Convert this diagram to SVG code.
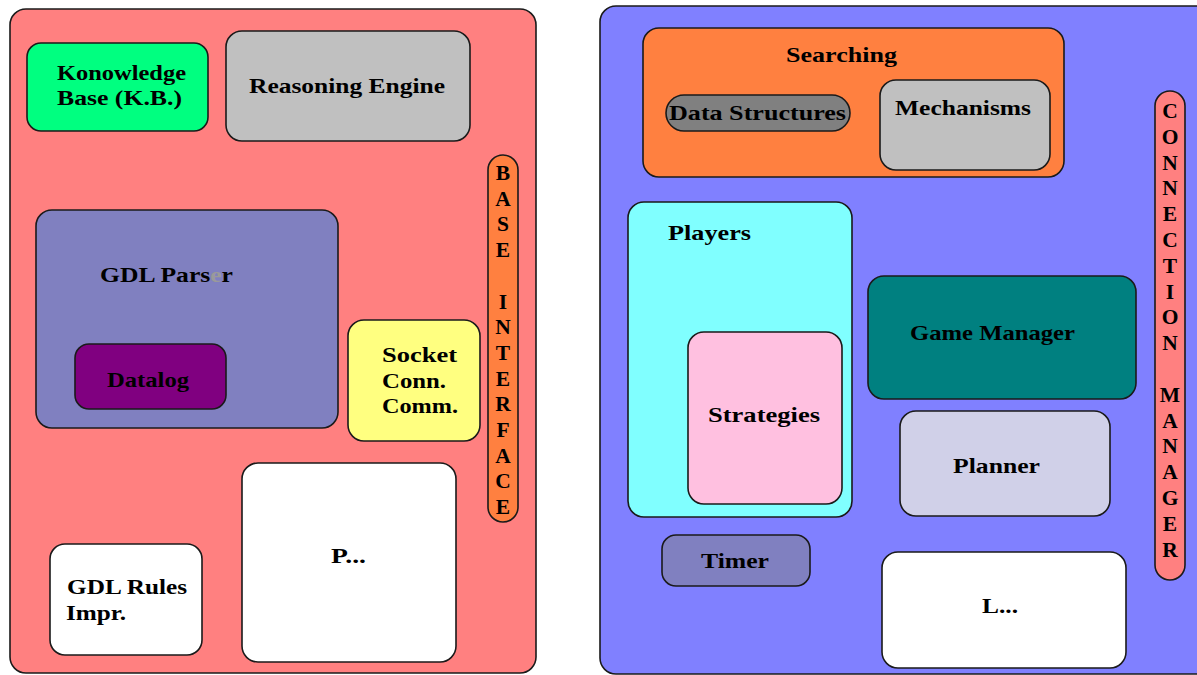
<svg xmlns="http://www.w3.org/2000/svg" width="1197" height="675" viewBox="0 0 1197 675">
<style>
rect{stroke:#1a1a1a;stroke-width:1.6}
text{font-family:"Liberation Serif","Times New Roman",serif;font-weight:bold;font-size:21px;fill:#000}
.m{text-anchor:middle}
.v{text-anchor:middle;font-size:21.5px}
</style>
<rect x="0" y="0" width="1197" height="675" fill="#ffffff" style="stroke:none"/>
<g id="left-panel">
<rect x="10" y="9" width="526" height="664" rx="16" fill="#FF8080"/>
</g>
<g id="right-panel">
<rect x="600" y="6" width="615" height="668" rx="16" fill="#8080FF"/>
</g>
<g id="knowledge-base">
<rect x="27" y="43" width="181" height="88" rx="14" fill="#00FF80"/>
<text x="57" y="80" textLength="129" lengthAdjust="spacingAndGlyphs">Konowledge</text>
<text x="57" y="105" textLength="125" lengthAdjust="spacingAndGlyphs">Base (K.B.)</text>
</g>
<g id="reasoning-engine">
<rect x="226" y="31" width="244" height="110" rx="16" fill="#C0C0C0"/>
<text x="249" y="93" textLength="196" lengthAdjust="spacingAndGlyphs">Reasoning Engine</text>
</g>
<g id="base-interface">
<rect x="488" y="155" width="30" height="367" rx="15" fill="#FF8040"/>
<text class="v"><tspan x="503" y="180">B</tspan><tspan x="503" y="205.7">A</tspan><tspan x="503" y="231.4">S</tspan><tspan x="503" y="257.1">E</tspan><tspan x="503" y="308.5">I</tspan><tspan x="503" y="334.2">N</tspan><tspan x="503" y="359.9">T</tspan><tspan x="503" y="385.6">E</tspan><tspan x="503" y="411.3">R</tspan><tspan x="503" y="437">F</tspan><tspan x="503" y="462.7">A</tspan><tspan x="503" y="488.4">C</tspan><tspan x="503" y="514.1">E</tspan></text>
</g>
<g id="gdl-parser">
<rect x="36" y="210" width="302" height="218" rx="16" fill="#8080C0"/>
<text x="100" y="282" textLength="133" lengthAdjust="spacingAndGlyphs">GDL Pars<tspan fill="#9a9a9a">e</tspan>r</text>
</g>
<g id="datalog">
<rect x="75" y="344" width="151" height="65" rx="14" fill="#800080"/>
<text x="107" y="387" textLength="82" lengthAdjust="spacingAndGlyphs">Datalog</text>
</g>
<g id="socket">
<rect x="348" y="320" width="132" height="121" rx="16" fill="#FFFF80"/>
<text x="382" y="362" textLength="75" lengthAdjust="spacingAndGlyphs">Socket</text>
<text x="382" y="388" textLength="64" lengthAdjust="spacingAndGlyphs">Conn.</text>
<text x="382" y="413" textLength="76" lengthAdjust="spacingAndGlyphs">Comm.</text>
</g>
<g id="p-box">
<rect x="242" y="463" width="214" height="199" rx="16" fill="#FFFFFF"/>
<text x="331" y="563" textLength="35" lengthAdjust="spacingAndGlyphs">P...</text>
</g>
<g id="gdl-rules">
<rect x="50" y="544" width="152" height="111" rx="15" fill="#FFFFFF"/>
<text x="67" y="594" textLength="120" lengthAdjust="spacingAndGlyphs">GDL Rules</text>
<text x="66" y="620" textLength="60" lengthAdjust="spacingAndGlyphs">Impr.</text>
</g>
<g id="searching">
<rect x="643" y="28" width="421" height="149" rx="16" fill="#FF8040"/>
<text x="786" y="62" textLength="111" lengthAdjust="spacingAndGlyphs">Searching</text>
</g>
<g id="data-structures">
<rect x="666" y="95" width="184" height="36" rx="18" fill="#808080"/>
<text x="669" y="120" textLength="177" lengthAdjust="spacingAndGlyphs">Data Structures</text>
</g>
<g id="mechanisms">
<rect x="880" y="80" width="170" height="90" rx="16" fill="#C0C0C0"/>
<text x="895" y="115" textLength="136" lengthAdjust="spacingAndGlyphs">Mechanisms</text>
</g>
<g id="connection-manager">
<rect x="1155" y="91" width="30" height="489" rx="15" fill="#FF8080"/>
<text class="v"><tspan x="1170" y="118">C</tspan><tspan x="1170" y="143.8">O</tspan><tspan x="1170" y="169.6">N</tspan><tspan x="1170" y="195.4">N</tspan><tspan x="1170" y="221.2">E</tspan><tspan x="1170" y="247">C</tspan><tspan x="1170" y="272.8">T</tspan><tspan x="1170" y="298.6">I</tspan><tspan x="1170" y="324.4">O</tspan><tspan x="1170" y="350.2">N</tspan><tspan x="1170" y="401.8">M</tspan><tspan x="1170" y="427.6">A</tspan><tspan x="1170" y="453.4">N</tspan><tspan x="1170" y="479.2">A</tspan><tspan x="1170" y="505">G</tspan><tspan x="1170" y="530.8">E</tspan><tspan x="1170" y="556.6">R</tspan></text>
</g>
<g id="players">
<rect x="628" y="202" width="224" height="315" rx="16" fill="#80FFFF"/>
<text x="668" y="240" textLength="83" lengthAdjust="spacingAndGlyphs">Players</text>
</g>
<g id="strategies">
<rect x="688" y="332" width="154" height="172" rx="16" fill="#FFC0E0"/>
<text x="708" y="422" textLength="112" lengthAdjust="spacingAndGlyphs">Strategies</text>
</g>
<g id="game-manager">
<rect x="868" y="276" width="268" height="123" rx="16" fill="#008080"/>
<text x="910" y="340" textLength="165" lengthAdjust="spacingAndGlyphs">Game Manager</text>
</g>
<g id="planner">
<rect x="900" y="411" width="210" height="105" rx="16" fill="#D0D0E8"/>
<text x="953" y="473" textLength="87" lengthAdjust="spacingAndGlyphs">Planner</text>
</g>
<g id="timer">
<rect x="662" y="535" width="148" height="51" rx="14" fill="#8080C0"/>
<text x="701" y="568" textLength="68" lengthAdjust="spacingAndGlyphs">Timer</text>
</g>
<g id="l-box">
<rect x="882" y="552" width="244" height="116" rx="16" fill="#FFFFFF"/>
<text x="982" y="613" textLength="36" lengthAdjust="spacingAndGlyphs">L...</text>
</g>
<g id="connectors"/>
</svg>
